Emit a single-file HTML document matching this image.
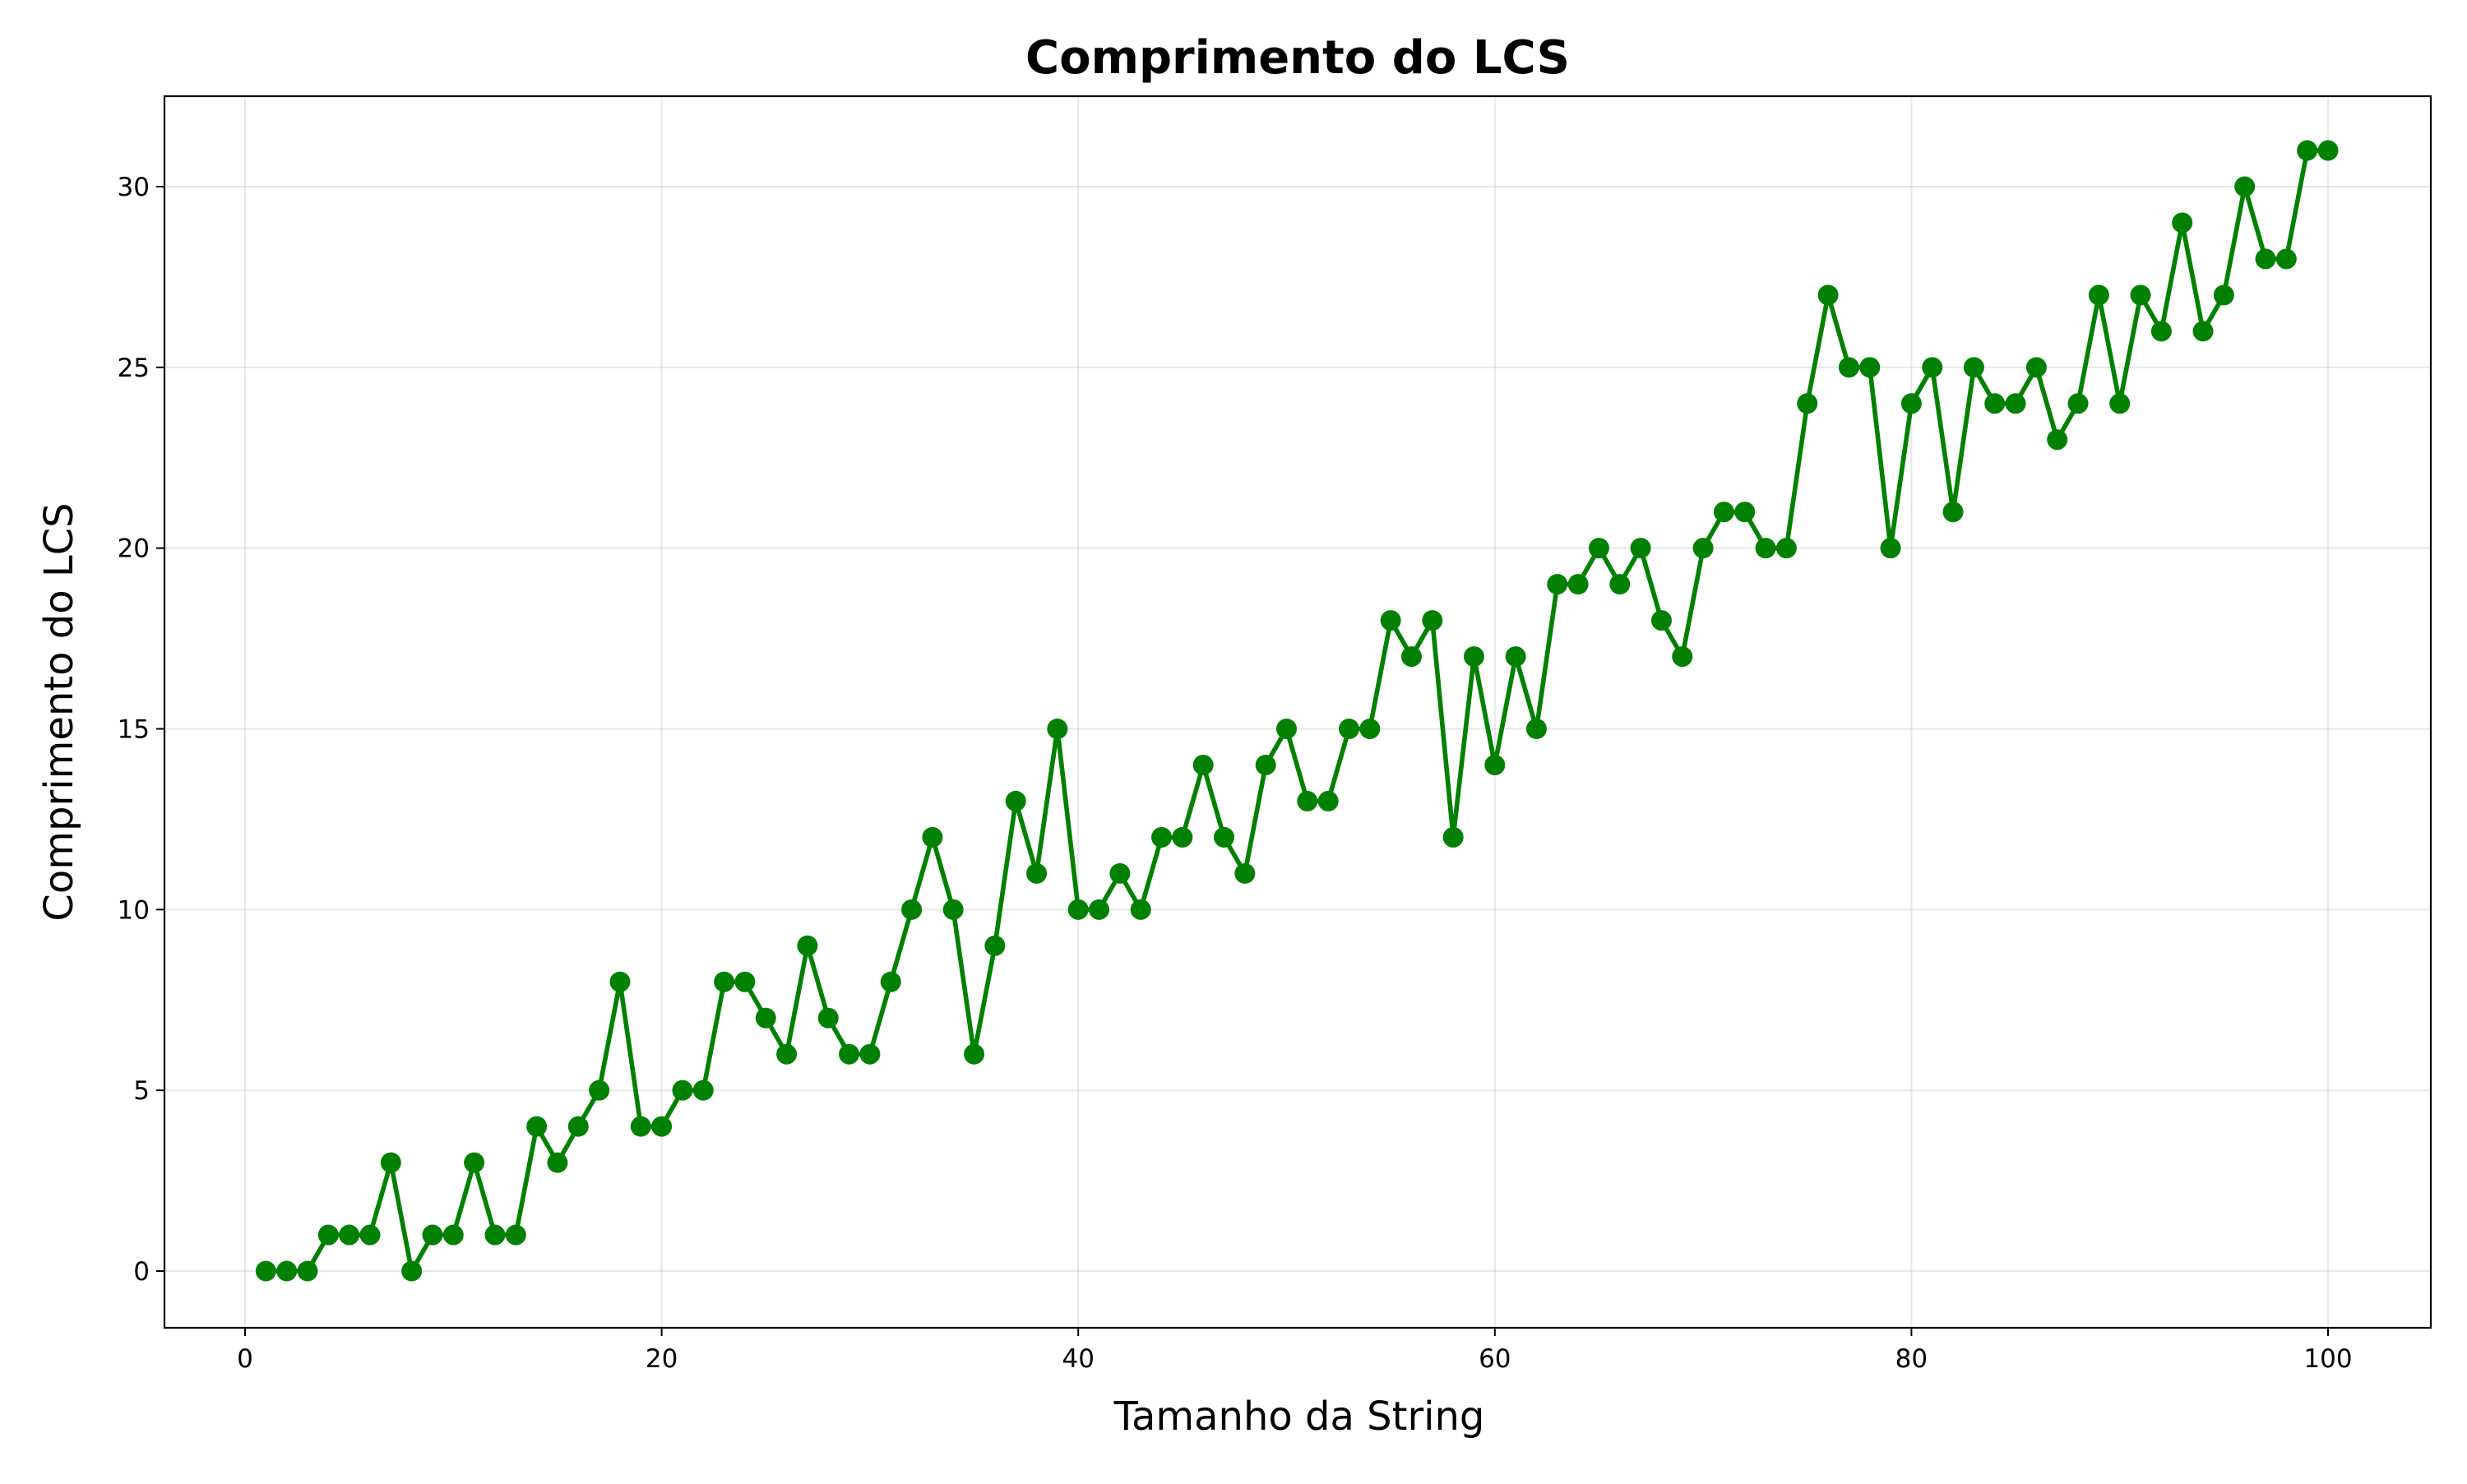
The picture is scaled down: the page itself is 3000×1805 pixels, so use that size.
<!DOCTYPE html>
<html><head><meta charset="utf-8"><style>
html,body{margin:0;padding:0;background:#fff;}
svg text{font-family:"DejaVu Sans","Liberation Sans",sans-serif;fill:#000;}
</style></head><body>
<svg id="chart" width="3000" height="1800" xmlns="http://www.w3.org/2000/svg">
<rect width="3000" height="1800" fill="#fff"/>
<g id="grid"></g>
<g id="ticks"></g>
<g id="series"></g>
<rect x="200" y="117" width="2756" height="1498" fill="none" stroke="#000" stroke-width="2.2"/>
<text x="1578" y="89" font-size="56" font-weight="bold" text-anchor="middle">Comprimento do LCS</text>
<text x="1580" y="1739" font-size="48" text-anchor="middle">Tamanho da String</text>
<text x="0" y="0" font-size="48" text-anchor="middle" transform="translate(88,866) rotate(-90)">Comprimento do LCS</text>
</svg>
<script>
const xValues = Array.from({length:100},(_,i)=>i+1);
const lcsValues = [0,0,0,1,1,1,3,0,1,1,3,1,1,4,3,4,5,8,4,4,5,5,8,8,7,6,9,7,6,6,8,10,12,10,6,9,13,11,15,10,10,11,10,12,12,14,12,11,14,15,13,13,15,15,18,17,18,12,17,14,17,15,19,19,20,19,20,18,17,20,21,21,20,20,24,27,25,25,20,24,25,21,25,24,24,25,23,24,27,24,27,26,29,26,27,30,28,28,31,31];
const xTicks = [0,20,40,60,80,100];
const yTicks = [0,5,10,15,20,25,30];
const NS="http://www.w3.org/2000/svg";
const L=200,R=2956,T=117,B=1615;
function xs(v){return 298+(v-0)*(2831-298)/100;}
function ys(v){return 1546-(v-0)*(1546-227)/30;}
function mk(t,a,p){const e=document.createElementNS(NS,t);for(const k in a)e.setAttribute(k,a[k]);p.appendChild(e);return e;}
const grid=document.getElementById('grid'),ticks=document.getElementById('ticks'),series=document.getElementById('series');
xTicks.forEach(v=>{const x=xs(v);
 const g=mk('line',{x1:x,x2:x,y1:T,y2:B,stroke:'#b0b0b0','stroke-opacity':0.3,'stroke-width':2},grid);
 
 
 const tk=mk('line',{x1:x,x2:x,y1:B,y2:B+10,stroke:'#000','stroke-width':2},ticks);
 
 
 const t=mk('text',{x:x,y:B+48,'font-size':31,'text-anchor':'middle'},ticks);t.textContent=v;
 
 
});
yTicks.forEach(v=>{const y=ys(v);
 const g=mk('line',{x1:L,x2:R,y1:y,y2:y,stroke:'#b0b0b0','stroke-opacity':0.3,'stroke-width':2},grid);
 
 
 const tk=mk('line',{x1:L-10,x2:L,y1:y,y2:y,stroke:'#000','stroke-width':2},ticks);
 
 
 const t=mk('text',{x:L-18,y:y+11,'font-size':31,'text-anchor':'end'},ticks);t.textContent=v;
 
 
});
const pts=xValues.map((x,i)=>xs(x)+','+ys(lcsValues[i])).join(' ');
const pl=mk('polyline',{points:pts,fill:'none',stroke:'#008000','stroke-width':5.6,'stroke-linejoin':'round'},series);


xValues.forEach((x,i)=>{
 const c=mk('circle',{cx:xs(x),cy:ys(lcsValues[i]),r:12.5,fill:'#008000'},series);
 
 
});
</script>
</body></html>
